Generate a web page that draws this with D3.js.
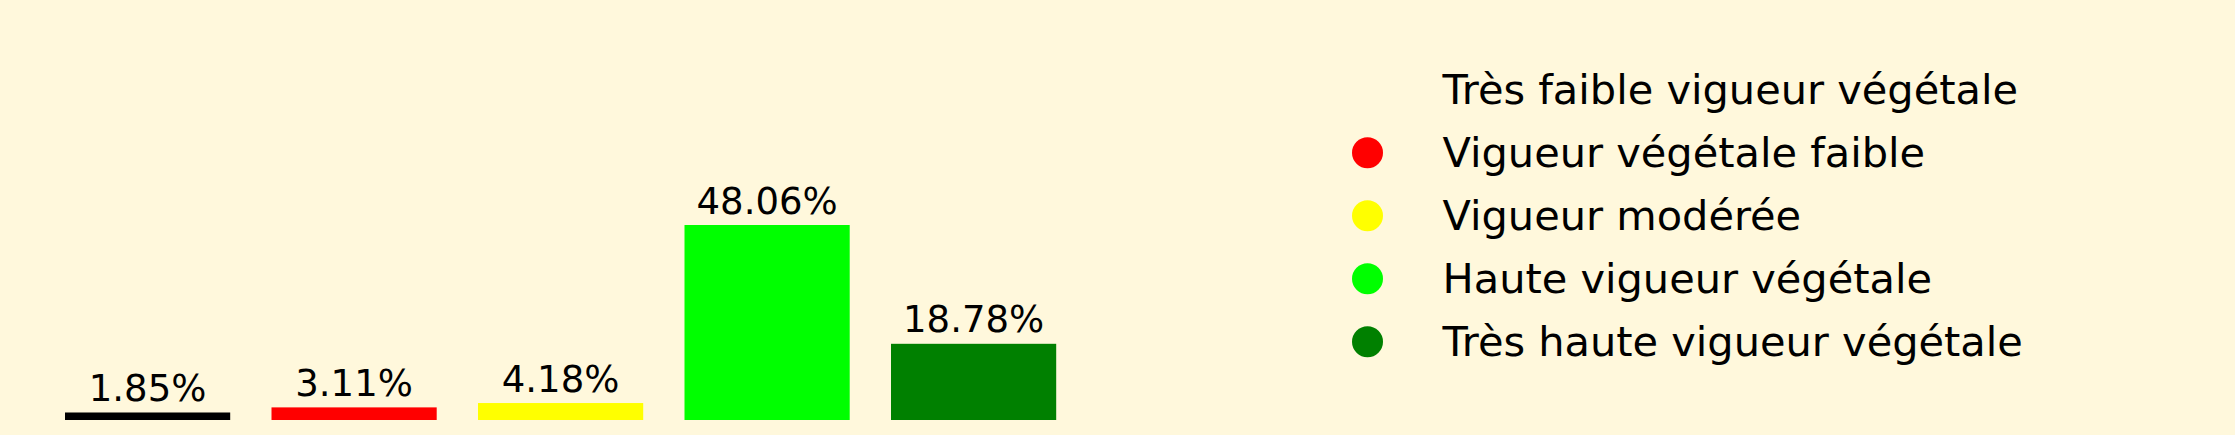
<!DOCTYPE html>
<html>
<head>
<meta charset="utf-8">
<script src="https://cdn.jsdelivr.net/npm/d3@7"></script>
<style>
  html, body { margin: 0; padding: 0; background: #fff8dc; }
  svg { display: block; font-family: "DejaVu Sans", sans-serif; }
</style>
</head>
<body>
<svg id="chart" width="2235" height="435"></svg>
<script>
const categories = [
  'Très faible vigueur végétale',
  'Vigueur végétale faible',
  'Vigueur modérée',
  'Haute vigueur végétale',
  'Très haute vigueur végétale'
];
const values = [1.85, 3.11, 4.18, 48.06, 18.78];
const barColors = ['#000000', '#ff0000', '#ffff00', '#00ff00', '#008000'];
// the first legend marker is not shown in the original
const legendColors = ['none', '#ff0000', '#ffff00', '#00ff00', '#008000'];

const width = 2235;
const height = 435;
const baseY = 420;

const svg = d3.select('#chart');
svg.append('rect').attr('width', width).attr('height', height).attr('fill', '#fff8dc');

const x = d3.scaleBand()
  .domain(categories)
  .range([44.35, 1076.85])
  .paddingInner(0.2)
  .paddingOuter(0.1);

const y = d3.scaleLinear()
  .domain([0, d3.max(values) * 1.05])
  .range([baseY, 215.25]);

const data = categories.map((c, i) => ({ name: c, value: values[i], color: barColors[i] }));

const bars = svg.append('g');
bars.selectAll('rect')
  .data(data)
  .enter()
  .append('rect')
  .attr('x', d => x(d.name))
  .attr('y', d => y(d.value))
  .attr('width', x.bandwidth())
  .attr('height', d => baseY - y(d.value))
  .attr('fill', d => d.color);

bars.selectAll('text')
  .data(data)
  .enter()
  .append('text')
  .attr('x', d => x(d.name) + x.bandwidth() / 2)
  .attr('y', d => y(d.value) - 11.5)
  .attr('text-anchor', 'middle')
  .attr('font-size', '37px')
  .attr('fill', '#000')
  .text(d => d.value.toFixed(2) + '%');

// legend
const rowY = d3.scalePoint()
  .domain(categories)
  .range([89.8, 89.8 + 63 * 4]);

const legend = svg.append('g');
const rows = legend.selectAll('g')
  .data(categories.map((c, i) => ({ name: c, color: legendColors[i] })))
  .enter()
  .append('g')
  .attr('transform', d => `translate(0,${rowY(d.name)})`);

rows.append('circle')
  .attr('cx', 1367.5)
  .attr('cy', 0)
  .attr('r', 15.5)
  .attr('fill', d => d.color);

rows.append('text')
  .attr('x', 1442.5)
  .attr('y', 14.5)
  .attr('font-size', '41.5px')
  .attr('fill', '#000')
  .text(d => d.name);
</script>
</body>
</html>
